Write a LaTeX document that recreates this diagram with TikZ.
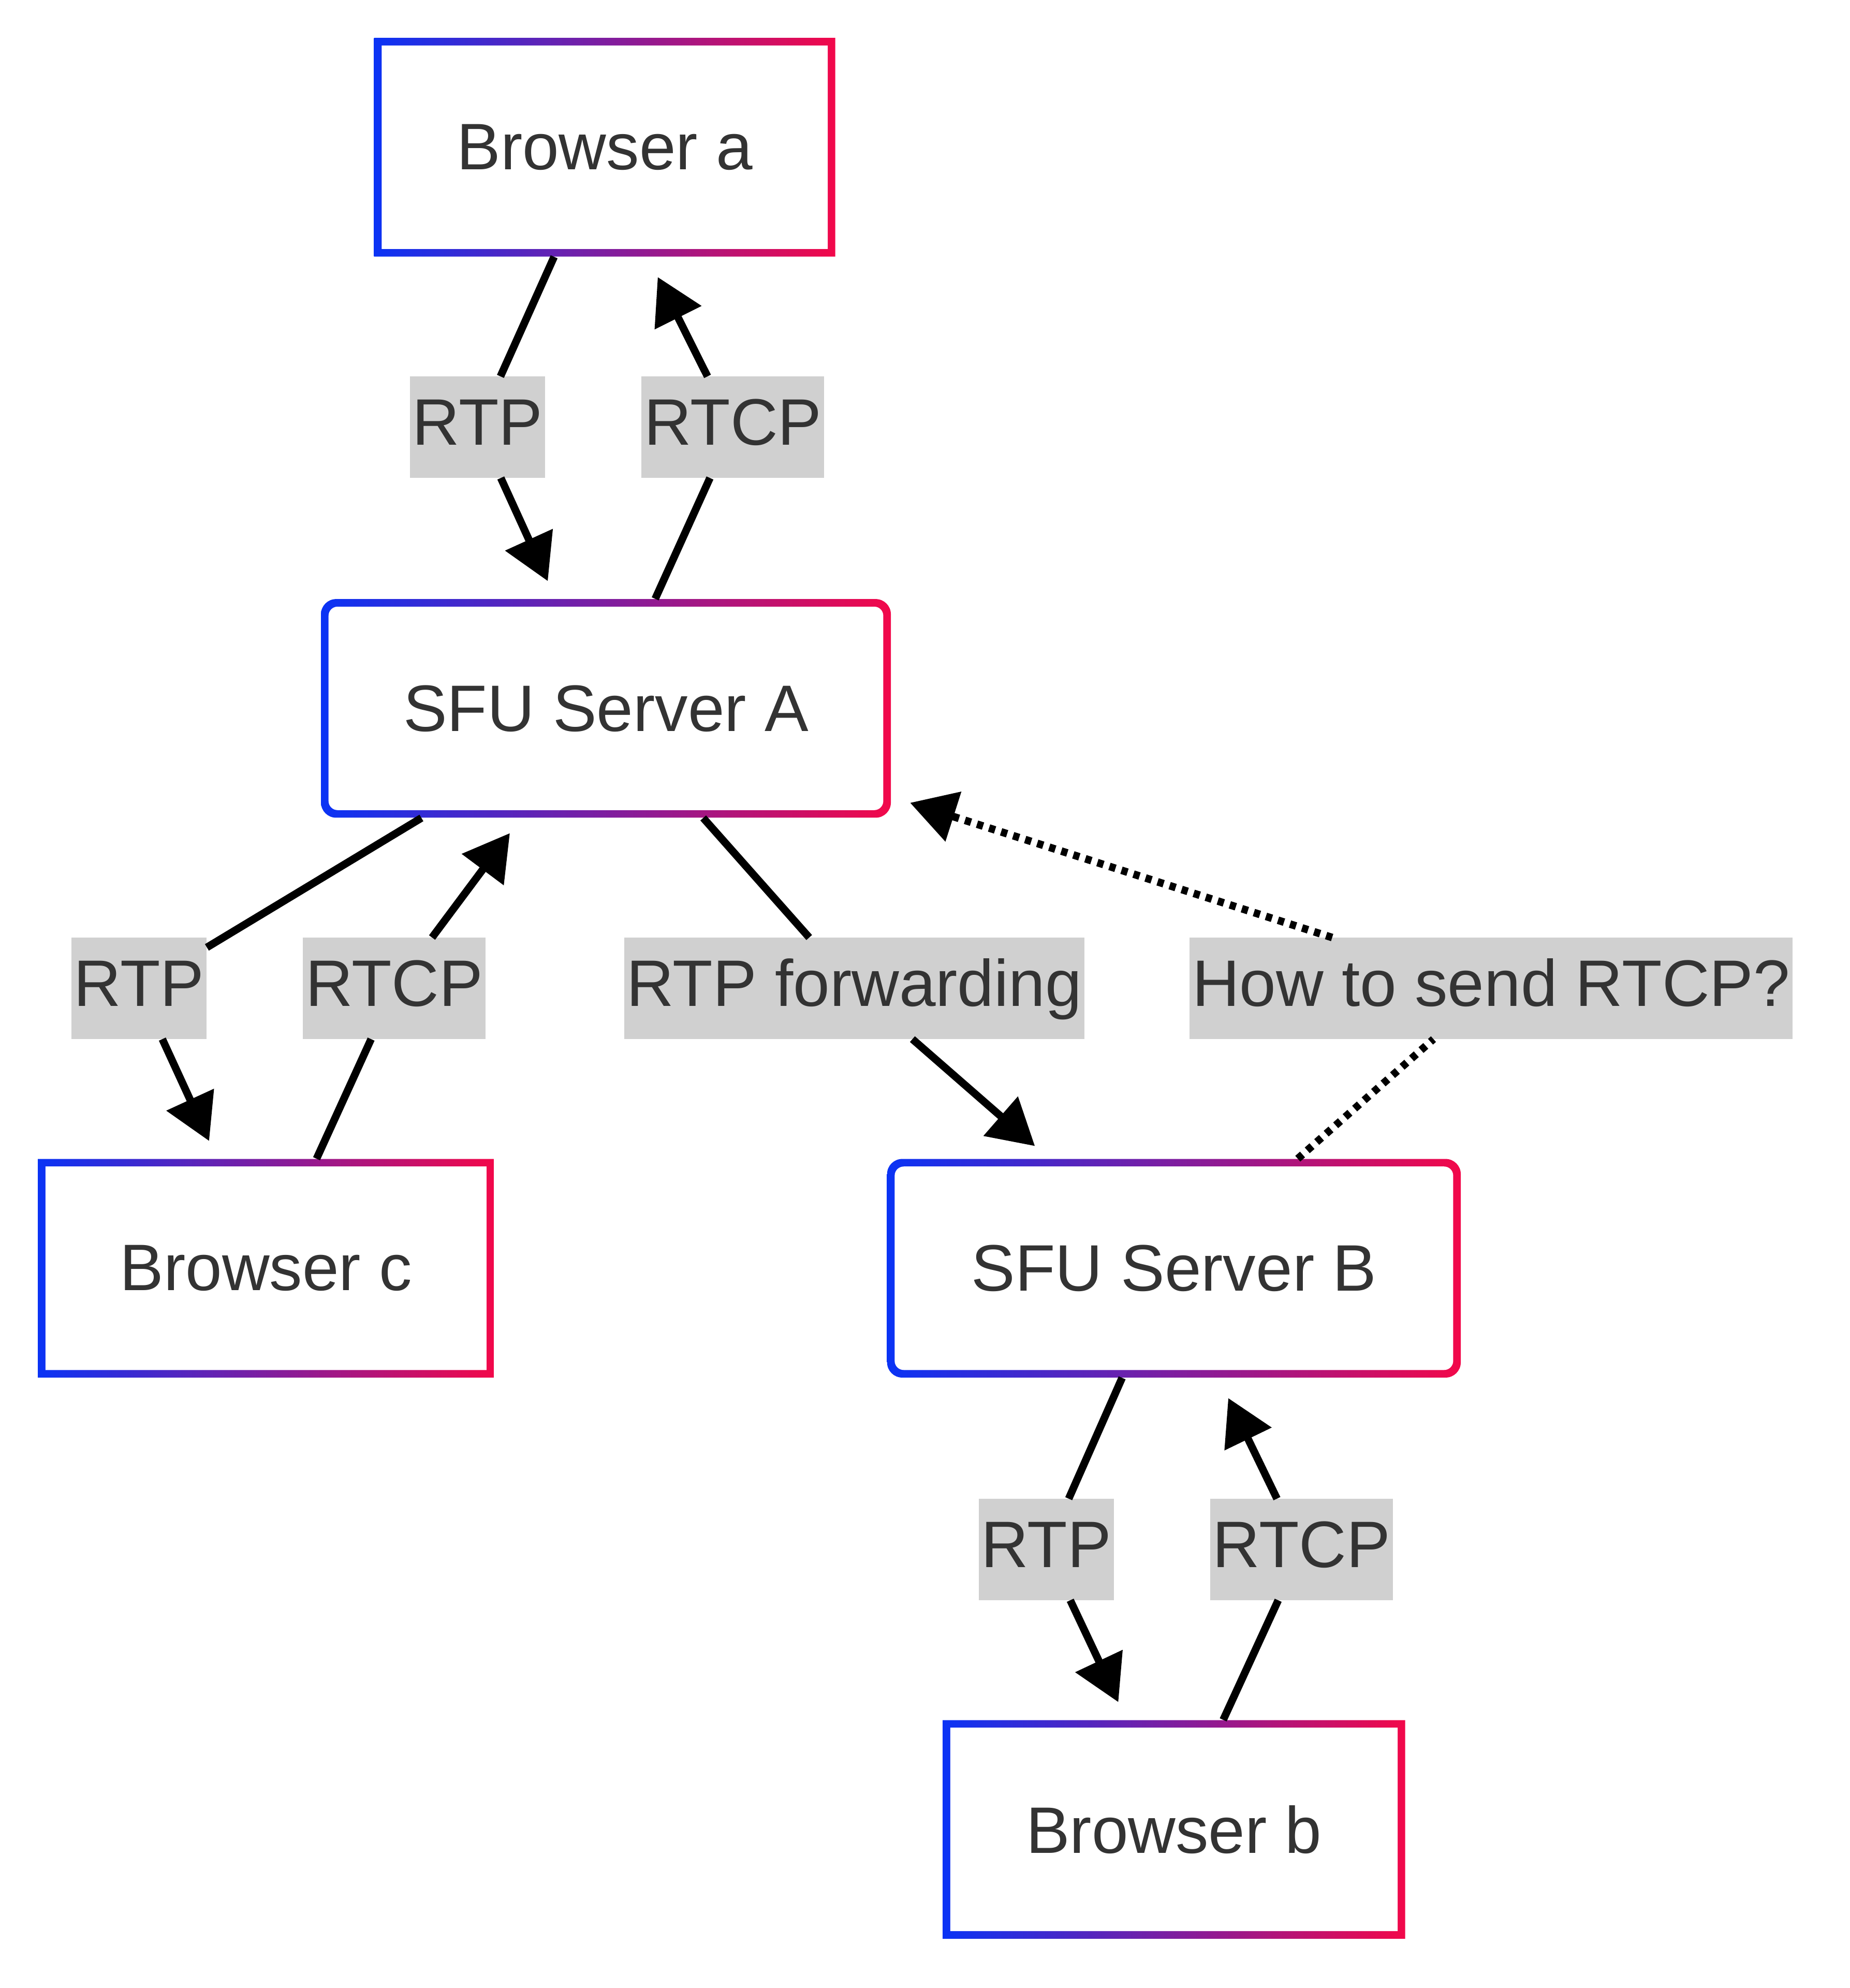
\documentclass[tikz,border=0pt]{standalone}
\usepackage{fontspec}
\setmainfont{Liberation Sans}
\usetikzlibrary{arrows.meta}
\definecolor{bl}{HTML}{0A33F5}
\definecolor{rd}{HTML}{F2084A}
\definecolor{tx}{HTML}{333333}
\definecolor{lb}{HTML}{D0D0D0}
\tikzset{
 outer/.style={left color=bl,right color=rd,draw=none,inner sep=0pt},
 inner/.style={fill=white,draw=none,inner sep=0pt,text=tx,font=\fontsize{52}{60}\selectfont},
 lab/.style={fill=lb,text=tx,inner xsep=2pt,minimum height=80pt,text height=38pt,text depth=10pt,font=\fontsize{52}{60}\selectfont},
 e/.style={line width=6pt,-{Triangle[length=36pt,width=40pt]}},
 ln/.style={line width=6pt},
}
\newcommand{\mybox}[6]{%
 \node[outer,minimum width=#4pt,minimum height=173pt,rounded corners=#5pt] (#1) at (#2,#3) {};
 \node[inner,minimum width=#4pt-12pt,minimum height=161pt,rounded corners=#5pt*0.6] (#1t) at (#1) {#6};
}
\begin{document}
\begin{tikzpicture}[x=1pt,y=-1pt]
\useasboundingbox[fill=white] (0,0) rectangle (1464,1573);
\mybox{a}{478.5}{116.5}{365}{0.01}{Browser a}
\mybox{A}{479.5}{560.5}{451}{12}{SFU Server A}
\mybox{c}{210.5}{1003.5}{361}{0.01}{Browser c}
\mybox{B}{929}{1003.5}{454}{12}{SFU Server B}
\mybox{b}{929}{1447.5}{366}{0.01}{Browser b}
\node[lab] (l1) at (378,338) {RTP};
\node[lab] (l2) at (580,338) {RTCP};
\node[lab] (l3) at (110,782) {RTP};
\node[lab] (l4) at (312,782) {RTCP};
\node[lab] (l5) at (676,782) {RTP forwarding};
\node[lab] (l6) at (1180,782) {How to send RTCP?};
\node[lab] (l7) at (828,1226) {RTP};
\node[lab] (l8) at (1030,1226) {RTCP};
\draw[ln] ([xshift=-40pt]a.south) -- (l1);
\draw[e] (l1) -- ([xshift=-46pt,yshift=14pt]A.north);
\draw[ln] ([xshift=39pt]A.north) -- (l2);
\draw[e] (l2) -- ([xshift=42pt,yshift=-16pt]a.south);
\draw[ln] ([xshift=-146pt]A.south) -- (l3);
\draw[e] (l3) -- ([xshift=-45pt,yshift=14pt]c.north);
\draw[ln] ([xshift=40pt]c.north) -- (l4);
\draw[e] (l4) -- ([xshift=-76pt,yshift=-12pt]A.south);
\draw[ln] ([xshift=77pt]A.south) -- (l5);
\draw[e] (l5) -- ([xshift=-110pt,yshift=10pt]B.north);
\draw[ln,dash pattern=on 5pt off 5pt] ([xshift=98pt]B.north) -- (l6);
\draw[e,dash pattern=on 5pt off 5pt] (l6) -- ([xshift=15pt,yshift=12pt]A.south east);
\draw[ln] ([xshift=-41pt]B.south) -- (l7);
\draw[e] (l7) -- ([xshift=-44pt,yshift=14pt]b.north);
\draw[ln] ([xshift=39pt]b.north) -- (l8);
\draw[e] (l8) -- ([xshift=43pt,yshift=-16pt]B.south);
\end{tikzpicture}
\end{document}
